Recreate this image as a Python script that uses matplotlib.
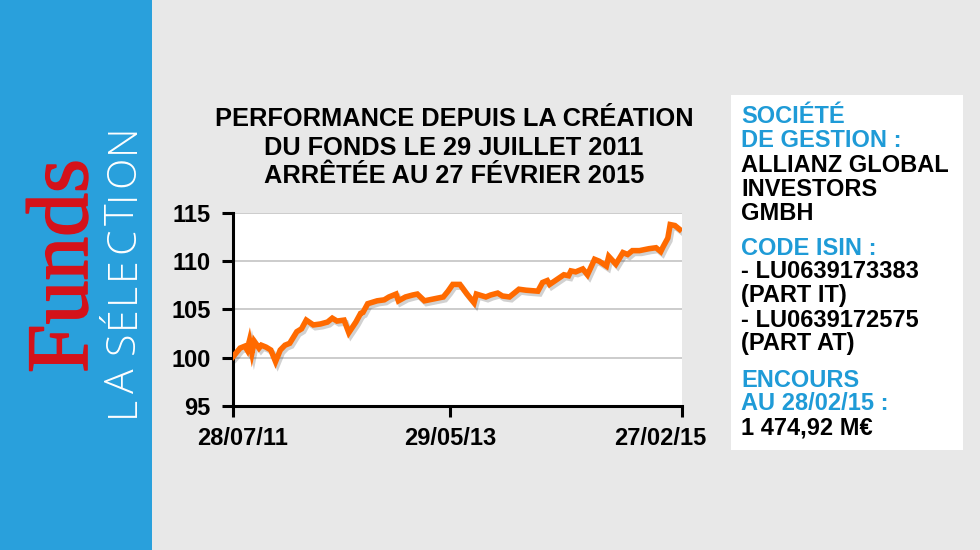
import numpy as np
import matplotlib.pyplot as plt
import matplotlib.patheffects as pe
from matplotlib.patches import Rectangle
from matplotlib.transforms import ScaledTranslation

# performance du fonds (base 100)
obs = [0, 3, 5, 6, 7, 8, 9, 11, 12, 14, 16, 18, 20, 22, 24, 27, 29, 31, 34, 37,
       40, 42, 44, 47, 49, 52, 54, 55, 57, 61, 64, 66, 69, 70, 73, 76, 78, 81, 85, 89,
       91, 93, 96, 99, 102, 103, 107, 109, 112, 114, 117, 121, 124, 129, 131, 133, 134, 137, 140, 142,
       143, 145, 148, 150, 153, 155, 158, 159, 162, 165, 167, 169, 172, 176, 179, 181, 182, 184, 185, 187,
       189]
perf = [100.1, 101.0, 101.2, 100.8, 101.8, 100.5, 101.7, 101.0, 101.3, 101.1, 100.8, 99.6, 100.8, 101.3, 101.5, 102.7, 103.0, 103.9, 103.4, 103.5,
        103.7, 104.1, 103.8, 103.9, 102.6, 103.7, 104.6, 104.7, 105.6, 105.9, 106.0, 106.3, 106.6, 105.9, 106.3, 106.5, 106.6, 105.9, 106.1, 106.3,
        106.9, 107.6, 107.6, 106.6, 105.7, 106.6, 106.3, 106.5, 106.7, 106.4, 106.3, 107.1, 107.0, 106.9, 107.8, 108.0, 107.6, 108.1, 108.6, 108.5,
        109.0, 108.9, 109.2, 108.6, 110.2, 110.0, 109.5, 110.5, 109.7, 110.9, 110.7, 111.1, 111.1, 111.3, 111.4, 111.0, 111.5, 112.4, 113.8, 113.7,
        113.3]
tick_pos = [0, 92, 190]
tick_labels = ["28/07/11", "29/05/13", "27/02/15"]
y_ticks = [95, 100, 105, 110, 115]

title_lines = ["PERFORMANCE DEPUIS LA CRÉATION",
               "DU FONDS LE 29 JUILLET 2011",
               "ARRÊTÉE AU 27 FÉVRIER 2015"]
info_lines = [("SOCIÉTÉ", "blue"), ("DE GESTION :", "blue"),
              ("ALLIANZ GLOBAL", "black"), ("INVESTORS", "black"), ("GMBH", "black"),
              ("CODE ISIN :", "blue"), ("- LU0639173383", "black"), ("(PART IT)", "black"),
              ("- LU0639172575", "black"), ("(PART AT)", "black"),
              ("ENCOURS", "blue"), ("AU 28/02/15 :", "blue"), ("1 474,92 M€", "black")]
info_baselines = [123, 147, 172, 196, 220, 255, 278, 302, 327, 350, 387, 410, 435]

W, H = 980, 550
BG = "#e8e8e8"
SIDE = "#29a0dc"
TXTBLUE = "#1f9bd7"
ORANGE = "#ff6a00"
SANS = ["Liberation Sans", "DejaVu Sans"]


def fx(x):
    return x / W


def fy(y):
    return 1 - y / H


fig = plt.figure(figsize=(9.8, 5.5), dpi=100, facecolor=BG)
renderer = fig.canvas.get_renderer()

# bandeau bleu a gauche
fig.patches.append(Rectangle((0, 0), fx(152), 1, transform=fig.transFigure,
                             facecolor=SIDE, edgecolor="none", zorder=0))
fig.text(fx(87), fy(373), "Funds", rotation=90, rotation_mode="anchor",
         ha="left", va="baseline", color="#d4121a", fontsize=63,
         family=["Liberation Serif", "DejaVu Serif"],
         path_effects=[pe.withStroke(linewidth=1.2, foreground="#d4121a")])

# "LA SÉLECTION" espace lettre par lettre (texte vertical, de bas en haut)
sel = "LA SÉLECTION"
sel_kw = dict(rotation=90, rotation_mode="anchor", ha="left", va="baseline",
              color="white", fontsize=29.5, family=["Open Sans", "DejaVu Sans"],
              fontweight="light")
advances = []
for ch in sel:
    if ch == " ":
        advances.append(None)
        continue
    t = fig.text(0, 0, ch, **sel_kw)
    advances.append(t.get_window_extent(renderer).height)
    t.remove()
space_w = 9.0
natural = sum(a if a is not None else space_w for a in advances)
track = (294 - natural) / (len(sel) - 1)
ypos = 417.0
for ch, adv in zip(sel, advances):
    if adv is None:
        ypos -= space_w + track
        continue
    fig.text(fx(134), fy(ypos), ch, **sel_kw)
    ypos -= adv + track

# encadre blanc a droite
fig.patches.append(Rectangle((fx(731), fy(450)), fx(963 - 731), (450 - 95) / H,
                             transform=fig.transFigure, facecolor="white",
                             edgecolor="none", zorder=0))
for (txt, col), yb in zip(info_lines, info_baselines):
    fig.text(fx(741), fy(yb), txt, ha="left", va="baseline",
             color=TXTBLUE if col == "blue" else "black",
             fontsize=17, fontweight="bold", family=SANS)

# titre du graphique
for txt, yb in zip(title_lines, [126, 155, 183]):
    fig.text(fx(454), fy(yb), txt, ha="center", va="baseline", color="black",
             fontsize=18.3, fontweight="bold", family=SANS)

# graphique
ax = fig.add_axes([fx(233), fy(406), fx(682 - 233), (406 - 213) / H])
ax.set_facecolor("white")
ax.plot(obs, perf, color=ORANGE, lw=4, solid_joinstyle="miter", zorder=3,
        path_effects=[pe.SimpleLineShadow(offset=(1.5, -2), shadow_color="#000000", alpha=0.18),
                      pe.Normal()])
ax.set_xlim(0, 190)
ax.set_ylim(95, 115)
ax.set_yticks(y_ticks)
ax.set_xticks(tick_pos)
ax.set_xticklabels(tick_labels)
ax.grid(axis="y", color="#c8c8c8", lw=1.3)
ax.set_axisbelow(True)
for s in ["top", "right"]:
    ax.spines[s].set_visible(False)
for s in ["left", "bottom"]:
    ax.spines[s].set_linewidth(2.2)
    ax.spines[s].set_color("black")
ax.tick_params(axis="both", direction="out", length=8, width=2.2, color="black")
ax.tick_params(axis="y", pad=8)
ax.tick_params(axis="x", pad=7)
for lab in ax.get_yticklabels() + ax.get_xticklabels():
    lab.set_fontsize(17)
    lab.set_fontweight("bold")
    lab.set_family(SANS)
xl = ax.get_xticklabels()
xl[0].set_transform(xl[0].get_transform() + ScaledTranslation(10 / 100, 0, fig.dpi_scale_trans))
xl[2].set_transform(xl[2].get_transform() + ScaledTranslation(-22 / 100, 0, fig.dpi_scale_trans))

fig.savefig("out.png", dpi=100, facecolor=BG)
